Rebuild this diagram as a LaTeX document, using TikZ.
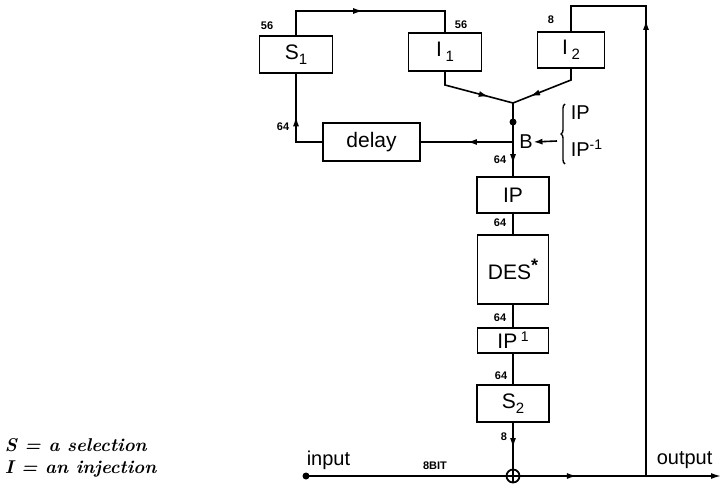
\documentclass[tikz,border=0pt]{standalone}
\usepackage{fontspec}
\setmainfont{Liberation Sans}
\newfontfamily\legendfont{Latin Modern Roman}
\usetikzlibrary{arrows.meta,decorations.markings,decorations.pathreplacing}
\newcommand{\lowidx}[1]{\raisebox{-5pt}{\fontsize{15}{15}\selectfont #1}}
\newcommand{\highidx}[1]{\raisebox{7pt}{\fontsize{14}{14}\selectfont #1}}
\begin{document}
\begin{tikzpicture}[x=1pt,y=-1pt,line width=1.6pt,
  blk/.style={draw,line width=1.8pt,inner sep=0pt,font=\fontsize{21}{24}\selectfont},
  bits/.style={font=\fontsize{11}{12}\selectfont\bfseries,inner sep=0pt},
  lbl/.style={font=\fontsize{20}{23}\selectfont,inner sep=0pt},
  midarrow/.style={postaction={decorate},decoration={markings,
     mark=at position #1 with {\arrow{Latex[length=10pt,width=6pt]}}}},
  dot/.style={circle,fill,inner sep=0pt,minimum size=7pt}]
\useasboundingbox (0,0) rectangle (722,500);

% boxes
\node[blk,minimum width=73pt,minimum height=37pt] (S1) at (296,54.5) {S\lowidx{1}};
\node[blk,minimum width=73pt,minimum height=38pt] (I1) at (445,52) {I\,\lowidx{1}};
\node[blk,minimum width=67pt,minimum height=36pt] (I2) at (571,50) {I\,\lowidx{2}};
\node[blk,minimum width=97pt,minimum height=38pt] (delay) at (371.5,142) {delay};
\node[blk,minimum width=72pt,minimum height=36pt] (IP) at (513,195) {IP};
\node[blk,minimum width=71pt,minimum height=69pt] (DES) at (513,269.5) {DES\raisebox{8pt}{\fontsize{18}{18}\selectfont\bfseries *}};
\node[blk,minimum width=71pt,minimum height=25pt] (IP1) at (513,340.5) {IP\,\highidx{1}};
\node[blk,minimum width=72pt,minimum height=37pt] (S2) at (513,403.5) {S\lowidx{2}};
\node[draw,circle,line width=1.8pt,minimum size=13pt,inner sep=0pt] (xor) at (513,476) {};
\draw[line width=1.6pt] (xor.north) -- (xor.south) (xor.west) -- (xor.east);

% coordinates
\coordinate (merge) at (513,103);
\coordinate (B) at (513,142);
\coordinate (in) at (306,476);
\coordinate (outj) at (646,476);
\coordinate (outend) at (721,476);

% top loop S1 -> I1
\draw[midarrow=0.47] (S1.north) -- (296,11) -- (445,11) -- (I1.north);
% I2 -> output
\draw[midarrow=0.8] (outj) -- (646,6) -- (571,6) -- (I2.north);
% injections merge
\draw[midarrow=0.7] (I1.south) -- (445,85) -- (merge);
\draw[midarrow=0.75] (I2.south) -- (571,80) -- (merge);
\draw (merge) -- (B);
\node[dot] (d1) at (513,122) {};
\draw[midarrow=0.65] (B) -- (IP.north);
\draw[midarrow=0.5] (B) -- (delay.east);
\draw[midarrow=0.55] (delay.west) -- (296,142) -- (S1.south);
% chain
\draw (IP.south) -- (DES.north);
\draw (DES.south) -- (IP1.north);
\draw (IP1.south) -- (S2.north);
\draw[midarrow=0.55] (S2.south) -- (xor.north);
% input/output
\node[dot] (din) at (in) {};
\draw (in) -- (xor.west);
\draw[midarrow=0.45] (xor.east) -- (outj);
\draw[-{Latex[length=10pt,width=6pt]}] (outj) -- (outend);

% bit labels
\node[bits] (l1) at (267,26) {56};
\node[bits] (l2) at (461,25) {56};
\node[bits] (l3) at (551,20) {8};
\node[bits] (l4) at (283,127) {64};
\node[bits] (l5) at (500,160) {64};
\node[bits] (l6) at (500,223) {64};
\node[bits] (l7) at (500,318) {64};
\node[bits] (l8) at (501,376) {64};
\node[bits] (l9) at (504,437) {8};
\node[bits] (l10) at (435,466) {8BIT};

% B selector
\node[lbl] (Bl) at (526,142) {B};
\coordinate (bsrc) at (557,141);
\draw[-{Latex[length=9pt,width=6pt]}] (bsrc) -- (Bl.east);
\draw[line width=1.4pt,decorate,decoration={brace,amplitude=4pt,mirror}] (565,104) -- (565,164);
\node[lbl,anchor=west] (ipa) at (570,113) {IP};
\node[lbl,anchor=west] (ipb) at (570,148) {IP\highidx{-1}};

% in/out labels
\node[lbl,anchor=south west] (inl) at (306,470) {input};
\node[lbl,anchor=south west] (outl) at (656,469) {output};

% legend
\node[anchor=west,inner sep=0pt,font=\legendfont\fontsize{18.5}{20}\selectfont\bfseries\itshape] (leg1) at (4,445) {S = a selection};
\node[anchor=west,inner sep=0pt,font=\legendfont\fontsize{18.5}{20}\selectfont\bfseries\itshape] (leg2) at (4,469) {I = an injection};
\end{tikzpicture}
\end{document}
